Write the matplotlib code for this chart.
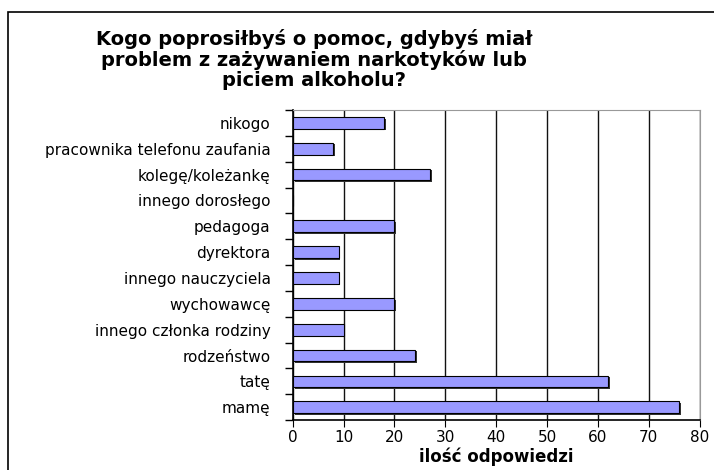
import matplotlib.pyplot as plt
from matplotlib.patches import Rectangle
import numpy as np

plt.rcParams['font.family'] = ['DejaVu Sans']

# Dane (od dołu do góry)
kategorie = ['mamę', 'tatę', 'rodzeństwo', 'innego członka rodziny', 'wychowawcę',
             'innego nauczyciela', 'dyrektora', 'pedagoga', 'innego dorosłego',
             'kolegę/koleżankę', 'pracownika telefonu zaufania', 'nikogo']
wartosci = [76, 62, 24, 10, 20, 9, 9, 20, 0, 27, 8, 18]
x_ticki = [0, 10, 20, 30, 40, 50, 60, 70, 80]

fig = plt.figure(figsize=(7.14, 4.70), dpi=100)
ax = fig.add_axes([0.41, 0.106, 0.570, 0.66])

# ramka wokół całego wykresu
fig.patches.append(Rectangle((8 / 714, -0.1), 1.0, 1 - 12 / 470 + 0.1,
                             transform=fig.transFigure, fill=False,
                             edgecolor='black', linewidth=1.2))

y = np.arange(len(kategorie))
# cień słupków
ax.barh(y - 0.06, wartosci, height=0.45, left=0.35, color='#333333', zorder=2)
ax.barh(y, wartosci, height=0.45, color='#9999FF', edgecolor='black',
        linewidth=0.8, zorder=3)

ax.set_xlim(0, 80)
ax.set_ylim(-0.5, len(kategorie) - 0.5)
ax.set_xticks(x_ticki)
ax.set_yticks(y)
ax.set_yticklabels(kategorie, fontsize=11)
ax.set_yticks(np.arange(len(kategorie) + 1) - 0.5, minor=True)
ax.tick_params(axis='y', which='major', length=0, pad=16)
ax.tick_params(axis='y', which='minor', length=6, width=1, direction='out')
ax.tick_params(axis='x', length=5, direction='out', labelsize=11, pad=2)

ax.grid(axis='x', color='#111111', linewidth=1, zorder=1)
ax.set_axisbelow(True)
for s in ['top', 'right']:
    ax.spines[s].set_color('#999999')
ax.spines['left'].set_linewidth(1.2)
ax.spines['bottom'].set_linewidth(1.2)

ax.set_xlabel('ilość odpowiedzi', fontsize=12, fontweight='bold', labelpad=2)

fig.text(314 / 714, 1 - 29 / 470,
         'Kogo poprosiłbyś o pomoc, gdybyś miał\nproblem z zażywaniem narkotyków lub\npiciem alkoholu?',
         ha='center', va='top', fontsize=14, fontweight='bold', linespacing=1.05)

fig.savefig('out.png', dpi=100)
